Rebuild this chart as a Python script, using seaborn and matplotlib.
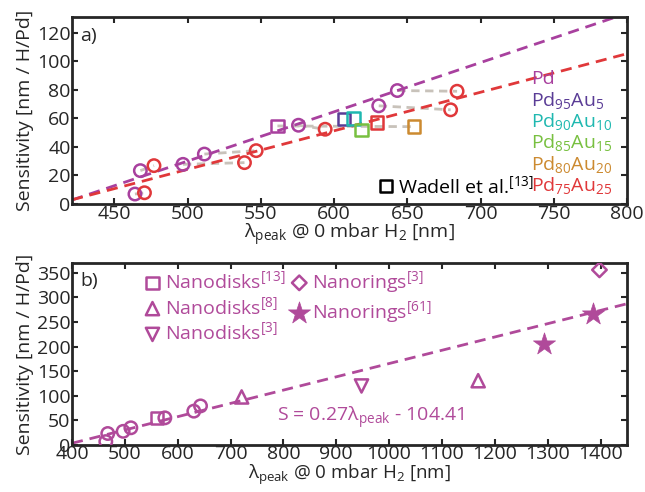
import numpy as np
import pandas as pd
import matplotlib
matplotlib.use('Agg')
import matplotlib.pyplot as plt
import seaborn as sns

sns.set_style('ticks')
plt.rcParams['font.family'] = ['Open Sans', 'DejaVu Sans']
plt.rcParams['mathtext.fontset'] = 'custom'
plt.rcParams['mathtext.rm'] = 'Open Sans'
plt.rcParams['mathtext.it'] = 'Open Sans'
plt.rcParams['mathtext.default'] = 'rm'

# Colores
c_pd = '#a8409e'
c_95 = '#5a3c96'
c_90 = '#1fb8b0'
c_85 = '#78c040'
c_80 = '#cc8a30'
c_75 = '#e0383a'
c_grey = '#c8c2ba'
c_b = '#b04a9a'

# Panel a) - Pd (circulos) y Pd75Au25 (circulos rojos)
pd_x = [464, 467.7, 496.8, 511.4, 575.7, 630.5, 643.2]
pd_y = [7, 23.4, 27.8, 35, 55.2, 68.8, 79.5]
au25_x = [470.5, 477, 538.8, 546.8, 593.9, 679.6, 684]
au25_y = [7.9, 26.9, 29, 37.4, 52.4, 66, 79]

# Wadell et al. (cuadrados) por composicion
wadell_labels = ['Pd', 'Pd95Au5', 'Pd90Au10', 'Pd85Au15', 'Pd80Au20', 'Pd75Au25']
wadell_x = [561.3, 606.8, 613.2, 618.6, 654.5, 629.5]
wadell_y = [54.7, 59.4, 59.9, 51.9, 54.2, 57.1]
wadell_colors = [c_pd, c_95, c_90, c_85, c_80, c_75]

# Ajustes lineales (pendiente, ordenada)
fit_pd = (0.345, -142.4)
fit_au25 = (0.27, -110.7)
fit_b = (0.27, -104.41)

# Panel b) otros trabajos
disk8_x = [721, 1168.5]
disk8_y = [97.7, 130.7]
disk3_x = [947.8]
disk3_y = [120]
ring3_x = [1398]
ring3_y = [356]
ring61_x = [1294, 1385]
ring61_y = [204.6, 266.7]

FS = 14
xlab = r'$\lambda_{peak}$ @ 0 mbar H$_2$ [nm]'
ylab = 'Sensitivity [nm / H/Pd]'

fig = plt.figure(figsize=(6.45, 4.92), dpi=100)
ax1 = fig.add_axes([0.1116, 0.5853, 0.8604, 0.3801])
ax2 = fig.add_axes([0.1116, 0.0955, 0.8604, 0.3700])

# ---- Panel a ----
for i in range(len(pd_x)):
    ax1.plot([pd_x[i], au25_x[i]], [pd_y[i], au25_y[i]], ls=(0, (3, 2)),
             color=c_grey, lw=2, zorder=1)
ax1.plot([wadell_x[0], wadell_x[4]], [wadell_y[0], wadell_y[4]], ls=(0, (3, 2)),
         color=c_grey, lw=2, zorder=1)

ax1.axline((0, fit_pd[1]), slope=fit_pd[0], color=c_pd, ls=(0, (4, 2.5)), lw=2, zorder=2)
ax1.axline((0, fit_au25[1]), slope=fit_au25[0], color=c_75, ls=(0, (4, 2.5)), lw=2, zorder=2)

sns.scatterplot(x=pd_x, y=pd_y, ax=ax1, marker='o', s=80, facecolor='none',
                edgecolor=c_pd, linewidth=1.8, zorder=3)
sns.scatterplot(x=au25_x, y=au25_y, ax=ax1, marker='o', s=80, facecolor='none',
                edgecolor=c_75, linewidth=1.8, zorder=3)
for xx, yy, cc in zip(wadell_x, wadell_y, wadell_colors):
    sns.scatterplot(x=[xx], y=[yy], ax=ax1, marker='s', s=80, facecolor='none',
                    edgecolor=cc, linewidth=1.8, zorder=3)

ax1.set_xlim(421, 800)
ax1.set_ylim(0, 131)
ax1.set_xticks(np.arange(450, 801, 50))
ax1.set_yticks(np.arange(0, 121, 20))

comp_txt = ['Pd', r'Pd$_{95}$Au$_{5}$', r'Pd$_{90}$Au$_{10}$', r'Pd$_{85}$Au$_{15}$',
            r'Pd$_{80}$Au$_{20}$', r'Pd$_{75}$Au$_{25}$']
for k, (t, cc) in enumerate(zip(comp_txt, wadell_colors)):
    ax1.text(0.828, 0.67 - k * 0.114, t, color=cc, fontsize=FS,
             transform=ax1.transAxes, va='center', ha='left')

ax1.scatter([0.566], [0.098], transform=ax1.transAxes, marker='s', s=70,
            facecolor='none', edgecolor='black', linewidth=1.8)
ax1.text(0.588, 0.098, r'Wadell et al.$^{[13]}$', transform=ax1.transAxes,
         fontsize=FS, va='center', ha='left', color='black')
ax1.text(0.015, 0.9, 'a)', transform=ax1.transAxes, fontsize=FS, va='center')
ax1.set_xlabel(xlab, fontsize=FS, labelpad=-1)
ax1.set_ylabel(ylab, fontsize=FS, labelpad=2)

# ---- Panel b ----
ax2.axline((0, fit_b[1]), slope=fit_b[0], color=c_b, ls=(0, (4, 2.5)), lw=2, zorder=2)
sns.scatterplot(x=pd_x, y=pd_y, ax=ax2, marker='o', s=80, facecolor='none',
                edgecolor=c_b, linewidth=1.8, zorder=3)
sns.scatterplot(x=[wadell_x[0]], y=[wadell_y[0]], ax=ax2, marker='s', s=80,
                facecolor='none', edgecolor=c_b, linewidth=1.8, zorder=3,
                label=r'Nanodisks$^{[13]}$')
sns.scatterplot(x=disk8_x, y=disk8_y, ax=ax2, marker='^', s=90, facecolor='none',
                edgecolor=c_b, linewidth=1.8, zorder=3, label=r'Nanodisks$^{[8]}$')
sns.scatterplot(x=disk3_x, y=disk3_y, ax=ax2, marker='v', s=90, facecolor='none',
                edgecolor=c_b, linewidth=1.8, zorder=3, label=r'Nanodisks$^{[3]}$')
sns.scatterplot(x=ring3_x, y=ring3_y, ax=ax2, marker='D', s=55, facecolor='none',
                edgecolor=c_b, linewidth=1.8, zorder=3, label=r'Nanorings$^{[3]}$')
sns.scatterplot(x=ring61_x, y=ring61_y, ax=ax2, marker='*', s=280, color=c_b,
                edgecolor=c_b, linewidth=0.5, zorder=3, label=r'Nanorings$^{[61]}$')

leg = ax2.legend(loc='upper left', bbox_to_anchor=(0.11, 1.01), ncol=2,
                 frameon=False, fontsize=FS, handletextpad=0.05, labelspacing=0.2,
                 columnspacing=0.1, borderaxespad=0, handlelength=1.2)
for t in leg.get_texts():
    t.set_color(c_b)

ax2.text(788, 56, r'S = 0.27$\lambda_{peak}$ - 104.41', color=c_b, fontsize=FS,
         va='center', ha='left')
ax2.text(0.015, 0.9, 'b)', transform=ax2.transAxes, fontsize=FS, va='center')
ax2.set_xlim(400, 1450)
ax2.set_ylim(0, 370)
ax2.set_xticks(np.arange(400, 1401, 100))
ax2.set_yticks(np.arange(0, 351, 50))
ax2.set_xlabel(xlab, fontsize=FS - 0.5, labelpad=0)
ax2.set_ylabel(ylab, fontsize=FS, labelpad=2)

for ax in (ax1, ax2):
    for s in ax.spines.values():
        s.set_linewidth(2)
        s.set_visible(True)
    ax.tick_params(direction='in', top=True, right=True, length=4, width=1.5,
                   labelsize=FS, pad=1)
ax2.tick_params(axis='x', pad=0)

fig.savefig('out.png', dpi=100)
